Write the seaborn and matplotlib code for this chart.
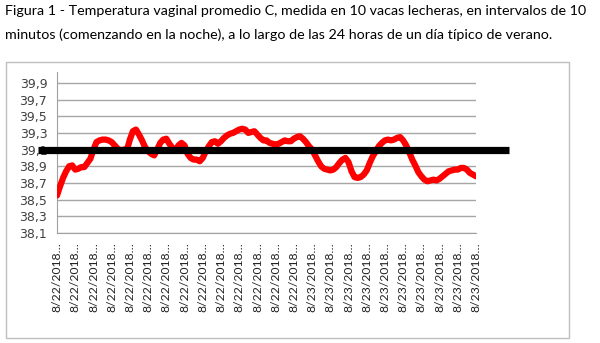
import numpy as np
import pandas as pd
import matplotlib
matplotlib.use("Agg")
import matplotlib.pyplot as plt
import seaborn as sns
from matplotlib.patches import Rectangle

# ---- data ----
temperature = [
    38.55, 38.66, 38.76, 38.84, 38.90, 38.91, 38.86, 38.87, 38.89, 38.89,
    38.94, 38.99, 39.10, 39.19, 39.21, 39.22, 39.22, 39.21, 39.19, 39.15,
    39.11, 39.09, 39.10, 39.09, 39.22, 39.32, 39.34, 39.28, 39.21, 39.13,
    39.08, 39.05, 39.03, 39.10, 39.18, 39.22, 39.23, 39.17, 39.12, 39.09,
    39.15, 39.18, 39.15, 39.05, 39.00, 38.98, 38.98, 38.96, 39.00, 39.08,
    39.14, 39.19, 39.20, 39.17, 39.20, 39.24, 39.27, 39.29, 39.30, 39.32,
    39.34, 39.35, 39.34, 39.30, 39.31, 39.32, 39.28, 39.24, 39.21, 39.21,
    39.18, 39.17, 39.16, 39.17, 39.19, 39.21, 39.20, 39.20, 39.23, 39.25,
    39.26, 39.23, 39.19, 39.14, 39.10, 39.03, 38.96, 38.90, 38.87, 38.86,
    38.85, 38.86, 38.89, 38.94, 38.98, 39.00, 38.95, 38.84, 38.77, 38.76,
    38.77, 38.80, 38.85, 38.94, 39.02, 39.08, 39.14, 39.18, 39.21, 39.22,
    39.21, 39.22, 39.24, 39.25, 39.21, 39.15, 39.07, 38.98, 38.91, 38.83,
    38.78, 38.74, 38.72, 38.73, 38.74, 38.73, 38.75, 38.78, 38.81, 38.84,
    38.85, 38.86, 38.86, 38.88, 38.88, 38.86, 38.82, 38.80, 38.78,
]
tick_labels = ["8/22/2018…"] * 14 + ["8/23/2018…"] * 10
ytick_values = [38.1, 38.3, 38.5, 38.7, 38.9, 39.1, 39.3, 39.5, 39.7, 39.9]
ytick_labels = ["38,1", "38,3", "38,5", "38,7", "38,9", "39,1", "39,3", "39,5", "39,7", "39,9"]
reference_value = 39.1
title = ("Figura 1 - Temperatura vaginal promedio C, medida en 10 vacas lecheras, en intervalos de 10\n"
         "minutos (comenzando en la noche), a lo largo de las 24 horas de un día típico de verano.")

df = pd.DataFrame({"idx": np.arange(len(temperature)), "temp": temperature})

sns.set_style("white")
fig = plt.figure(figsize=(6.0, 3.43), dpi=100)
ax = fig.add_axes([57/600, 1-233/343, (476-57)/600, (233-72)/343])

# horizontal gridlines
for v in ytick_values:
    ax.axhline(v, color="#a6a6a6", lw=1.0, zorder=0)

sns.lineplot(data=df, x="idx", y="temp", ax=ax, color="#ff0000", lw=4.5,
             solid_capstyle="round", solid_joinstyle="round", zorder=3)

ax.axhline(reference_value, xmin=(38-57)/419, xmax=(509-57)/419, color="black",
           lw=5.2, clip_on=False, zorder=4, solid_capstyle="butt")

ax.set_xlim(0, len(temperature) - 1)
ax.set_ylim(38.1, 40.03)
ax.set_yticks(ytick_values)
ax.set_yticklabels(ytick_labels, fontsize=9, family="DejaVu Sans", color="#404040")
major_pos = list(range(0, len(temperature), 6))[:len(tick_labels)]
ax.set_xticks(major_pos)
ax.set_xticklabels(tick_labels, rotation=90, fontsize=8.7, family="Lato", color="#202020")
ax.set_xticks(np.arange(len(temperature)), minor=True)
ax.tick_params(axis="x", which="major", length=5, color="#808080", width=0.8, pad=2)
ax.tick_params(axis="x", which="minor", length=3, color="#a0a0a0", width=0.6)
ax.tick_params(axis="y", which="major", length=4, color="#a0a0a0", width=0.8, pad=3)
ax.set_xlabel("")
ax.set_ylabel("")
for s in ["top", "right"]:
    ax.spines[s].set_visible(False)
for s in ["left", "bottom"]:
    ax.spines[s].set_color("#a0a0a0")
    ax.spines[s].set_linewidth(0.8)

# chart border
fig.patches.append(Rectangle((6/600, 1-338/343), (569-6)/600, (338-62)/343,
                             transform=fig.transFigure, fill=False,
                             edgecolor="#bfbfbf", lw=1.0))

fig.text(5/600, 1-5/343, title, ha="left", va="top", fontsize=10.25,
         family="Lato", color="#000000", linespacing=2.05)

fig.savefig("out.png", dpi=100)
